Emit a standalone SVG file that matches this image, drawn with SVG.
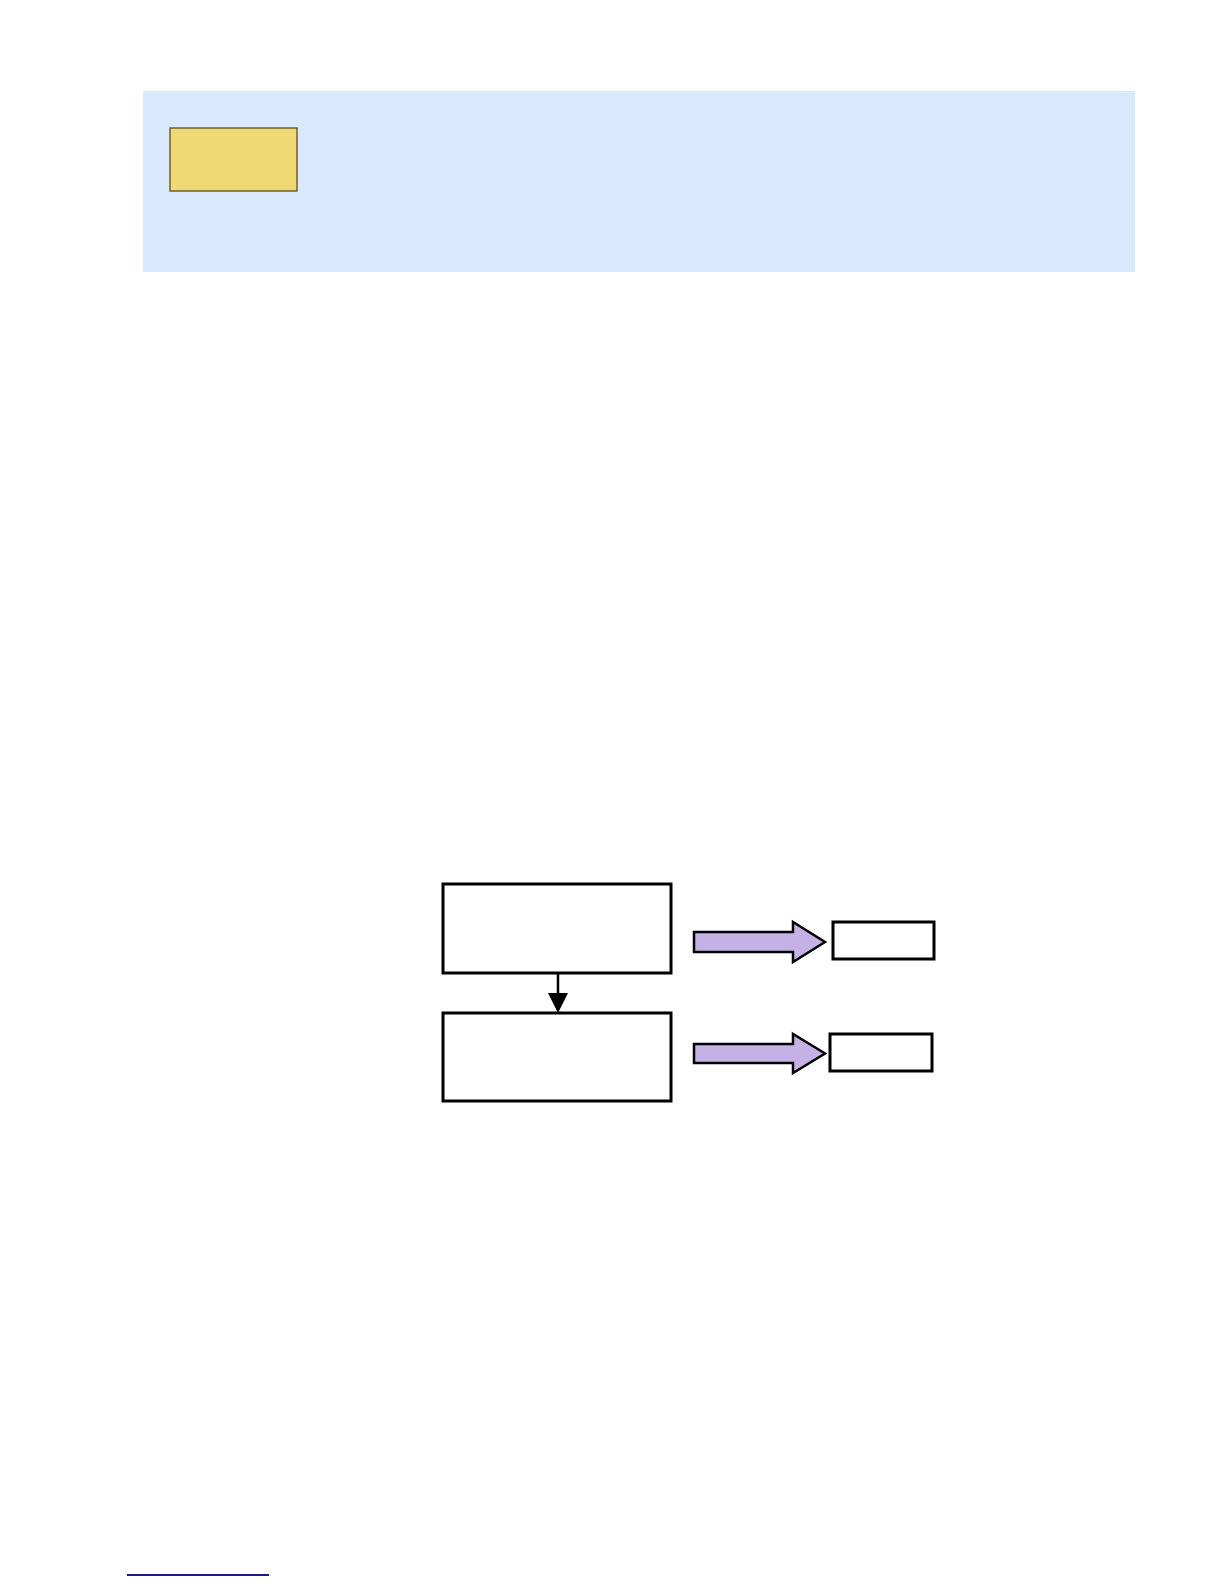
<svg xmlns="http://www.w3.org/2000/svg" width="1224" height="1584" viewBox="0 0 1224 1584">
<style>
.box{fill:#ffffff;stroke:#000000;stroke-width:3}
.fat{fill:#c4b2e6;stroke:#000000;stroke-width:2.5;stroke-linejoin:miter}
.link{stroke:#000000;stroke-width:2.5;fill:none}
</style>
<rect width="1224" height="1584" fill="#ffffff"/>
<g id="panel">
<rect x="143" y="91" width="992" height="181" fill="#dbe9fe"/>
</g>
<g id="tag">
<rect x="170" y="128" width="127" height="63" fill="#eed974" stroke="#6b6030" stroke-width="1.5"/>
</g>
<g id="step1">
<rect class="box" x="443" y="884" width="228" height="89"/>
</g>
<g id="step2">
<rect class="box" x="443" y="1013" width="228" height="88"/>
</g>
<g id="out1">
<rect class="box" x="833" y="922" width="101" height="37"/>
</g>
<g id="out2">
<rect class="box" x="830" y="1034" width="102" height="37"/>
</g>
<g id="connectors">
<line class="link" x1="558" y1="973" x2="558" y2="996"/>
<path d="M548,993 L568,993 L558,1013 Z" fill="#000000"/>
<path class="fat" d="M694,932 L793,932 L793,922 L825,942 L793,962 L793,952 L694,952 Z"/>
<path class="fat" d="M694,1044 L793,1044 L793,1034 L825,1053.5 L793,1073 L793,1063 L694,1063 Z"/>
</g>
<g id="footer">
<line x1="127" y1="1575" x2="269" y2="1575" stroke="#1a1a8a" stroke-width="2"/>
</g>
</svg>
